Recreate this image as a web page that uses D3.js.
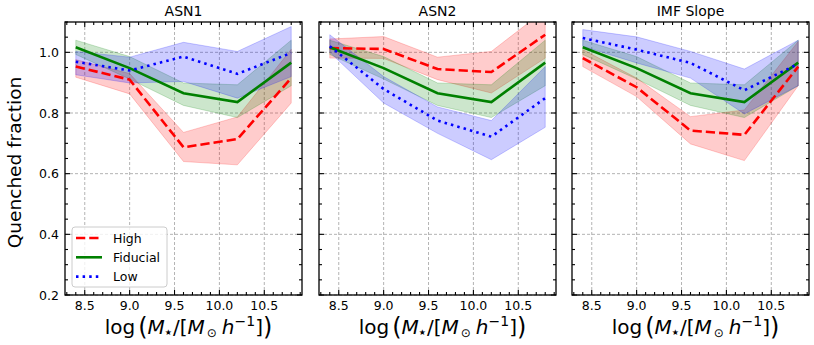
<!DOCTYPE html>
<html>
<head>
<meta charset="utf-8">
<script src="https://cdn.jsdelivr.net/npm/d3@7"></script>
<style>
  body { margin: 0; background: #fff; }
  text { font-family: "DejaVu Sans", sans-serif; fill: #000; }
</style>
</head>
<body>
<div id="chart-area"></div>
<script>
const chartWidth = 814
const chartHeight = 345

// Data
const xVals = [8.4, 9.0, 9.6, 10.2, 10.8];
const panelTitles = ["ASN1", "ASN2", "IMF Slope"];
const seriesNames = ["High", "Fiducial", "Low"];
const xTicks = [8.5, 9.0, 9.5, 10.0, 10.5];
const yTicks = [0.2, 0.4, 0.6, 0.8, 1.0];

const fiducialMid = [1.017, 0.948, 0.865, 0.836, 0.966];
const fiducialLo  = [0.993, 0.912, 0.825, 0.785, 0.890];
const fiducialHi  = [1.040, 0.986, 0.899, 0.893, 1.040];

const asn1HighMid = [0.953, 0.910, 0.687, 0.714, 0.915];
const asn1HighLo  = [0.918, 0.863, 0.640, 0.629, 0.833];
const asn1HighHi  = [0.976, 0.930, 0.736, 0.787, 1.010];
const asn1LowMid  = [0.969, 0.940, 0.986, 0.929, 0.998];
const asn1LowLo   = [0.926, 0.899, 0.904, 0.849, 0.920];
const asn1LowHi   = [1.003, 0.984, 1.033, 1.003, 1.085];

const asn2HighMid = [1.014, 1.011, 0.945, 0.935, 1.058];
const asn2HighLo  = [0.981, 0.980, 0.910, 0.866, 0.981];
const asn2HighHi  = [1.044, 1.052, 0.984, 1.003, 1.140];
const asn2LowMid  = [1.020, 0.879, 0.775, 0.722, 0.849];
const asn2LowLo   = [1.000, 0.833, 0.733, 0.646, 0.753];
const asn2LowHi   = [1.058, 0.920, 0.820, 0.775, 0.953];

const imfHighMid = [0.981, 0.885, 0.742, 0.728, 0.953];
const imfHighLo  = [0.953, 0.854, 0.698, 0.643, 0.890];
const imfHighHi  = [1.009, 0.915, 0.788, 0.810, 1.036];
const imfLowMid  = [1.047, 1.009, 0.965, 0.875, 0.962];
const imfLowLo   = [1.020, 0.965, 0.915, 0.797, 0.890];
const imfLowHi   = [1.075, 1.051, 1.003, 0.945, 1.040];

// panel -> series (High, Fiducial, Low)
const panels = [
    [[asn1HighMid, asn1HighLo, asn1HighHi], [fiducialMid, fiducialLo, fiducialHi], [asn1LowMid, asn1LowLo, asn1LowHi]],
    [[asn2HighMid, asn2HighLo, asn2HighHi], [fiducialMid, fiducialLo, fiducialHi], [asn2LowMid, asn2LowLo, asn2LowHi]],
    [[imfHighMid, imfHighLo, imfHighHi], [fiducialMid, fiducialLo, fiducialHi], [imfLowMid, imfLowLo, imfLowHi]]
];

const colors = ["#ff0000", "#008000", "#0000ff"];
const dashes = ["9.25,4", null, "2.5,4.1"];

const panelLefts = [65, 319, 572];
const panelWidth = 237;
const plotTop = 22, plotBottom = 295;

const svg = d3.select("#chart-area").append("svg")
    .attr("width", chartWidth)
    .attr("height", chartHeight);

const y = d3.scaleLinear().domain([0.2, 1.1]).range([plotBottom, plotTop]);

panels.forEach((series, p) => {
    const left = panelLefts[p];
    const x = d3.scaleLinear().domain([8.28, 10.92]).range([left, left + panelWidth]);

    const g = svg.append("g");

    const clipId = "clip" + p;
    svg.append("clipPath").attr("id", clipId)
        .append("rect")
        .attr("x", left).attr("y", plotTop)
        .attr("width", panelWidth).attr("height", plotBottom - plotTop);

    // grid
    g.selectAll(".gx").data(xTicks).enter().append("line")
        .attr("x1", d => x(d)).attr("x2", d => x(d))
        .attr("y1", plotTop).attr("y2", plotBottom)
        .attr("stroke", "#a0a0a0").attr("stroke-width", 0.8)
        .attr("stroke-dasharray", "3,2");
    g.selectAll(".gy").data(yTicks).enter().append("line")
        .attr("y1", d => y(d)).attr("y2", d => y(d))
        .attr("x1", left).attr("x2", left + panelWidth)
        .attr("stroke", "#a0a0a0").attr("stroke-width", 0.8)
        .attr("stroke-dasharray", "3,2");

    const plot = g.append("g").attr("clip-path", `url(#${clipId})`);

    const area = d3.area()
        .x((d, i) => x(xVals[i]))
        .y0(d => y(d[0]))
        .y1(d => y(d[1]));
    const line = d3.line()
        .x((d, i) => x(xVals[i]))
        .y(d => y(d));

    series.forEach((s, k) => {
        const band = s[1].map((lo, i) => [lo, s[2][i]]);
        plot.append("path")
            .datum(band)
            .attr("d", area)
            .attr("fill", colors[k])
            .attr("fill-opacity", 0.2)
            .attr("stroke", colors[k])
            .attr("stroke-opacity", 0.2)
            .attr("stroke-width", 1);
    });
    series.forEach((s, k) => {
        plot.append("path")
            .datum(s[0])
            .attr("d", line)
            .attr("fill", "none")
            .attr("stroke", colors[k])
            .attr("stroke-width", 2.6)
            .attr("stroke-dasharray", dashes[k]);
    });

    // ticks, all inward on 4 sides
    const xMinor = d3.range(8.3, 10.95, 0.1).map(v => Math.round(v * 10) / 10);
    const yMinor = d3.range(0.2, 1.101, 0.05).map(v => Math.round(v * 100) / 100);
    const tickG = g.append("g").attr("stroke", "#000").attr("stroke-width", 1.1);
    xMinor.forEach(v => {
        const major = xTicks.some(t => Math.abs(t - v) < 1e-6);
        const len = major ? 5 : 3;
        tickG.append("line").attr("x1", x(v)).attr("x2", x(v)).attr("y1", plotBottom).attr("y2", plotBottom - len);
        tickG.append("line").attr("x1", x(v)).attr("x2", x(v)).attr("y1", plotTop).attr("y2", plotTop + len);
    });
    yMinor.forEach(v => {
        const major = yTicks.some(t => Math.abs(t - v) < 1e-6);
        const len = major ? 5 : 3;
        tickG.append("line").attr("y1", y(v)).attr("y2", y(v)).attr("x1", left).attr("x2", left + len);
        tickG.append("line").attr("y1", y(v)).attr("y2", y(v)).attr("x1", left + panelWidth).attr("x2", left + panelWidth - len);
    });

    // frame
    g.append("rect")
        .attr("x", left).attr("y", plotTop)
        .attr("width", panelWidth).attr("height", plotBottom - plotTop)
        .attr("fill", "none").attr("stroke", "#000").attr("stroke-width", 1.3);

    // x tick labels
    g.selectAll(".xl").data(xTicks).enter().append("text")
        .attr("x", d => x(d)).attr("y", 310)
        .attr("text-anchor", "middle")
        .attr("font-size", "12.5px")
        .text(d => d.toFixed(1));

    if (p === 0) {
        g.selectAll(".yl").data(yTicks).enter().append("text")
            .attr("x", left - 6).attr("y", d => y(d) + 4.5)
            .attr("text-anchor", "end")
            .attr("font-size", "12.5px")
            .text(d => d.toFixed(1));
    }

    // title
    g.append("text")
        .attr("x", left + panelWidth / 2).attr("y", 15.5)
        .attr("text-anchor", "middle")
        .attr("font-size", "14px")
        .text(panelTitles[p]);

    // x label: log(M*/[Msun h^-1])
    const xl = g.append("text")
        .attr("x", left + panelWidth / 2 + 5).attr("y", 334)
        .attr("text-anchor", "middle")
        .attr("font-size", "20px");
    xl.append("tspan").text("log");
    xl.append("tspan").attr("font-size", "24px").attr("dx", 3).attr("dy", 1).text("(");
    xl.append("tspan").attr("font-style", "italic").attr("dy", -1).text("M");
    xl.append("tspan").attr("font-size", "8px").attr("dy", 1).text("★");
    xl.append("tspan").attr("dy", -1).attr("dx", 1).text("/[");
    xl.append("tspan").attr("font-style", "italic").text("M");
    xl.append("tspan").attr("font-size", "12px").attr("dy", 3).attr("dx", 2).text("⊙");
    xl.append("tspan").attr("font-style", "italic").attr("dy", -3).attr("dx", 5).text("h");
    xl.append("tspan").attr("font-size", "14px").attr("dy", -8).text("−1");
    xl.append("tspan").attr("dy", 8).text("]");
    xl.append("tspan").attr("font-size", "24px").attr("dy", 1).text(")");
});

// y label
svg.append("text")
    .attr("transform", `translate(21, ${(plotTop + plotBottom) / 2 + 4}) rotate(-90)`)
    .attr("text-anchor", "middle")
    .attr("font-size", "18.5px")
    .text("Quenched fraction");

// legend
const legend = svg.append("g");
legend.append("rect")
    .attr("x", 72).attr("y", 227)
    .attr("width", 95).attr("height", 60)
    .attr("rx", 3)
    .attr("fill", "#fff").attr("fill-opacity", 0.8)
    .attr("stroke", "#cccccc").attr("stroke-width", 1);
seriesNames.forEach((name, k) => {
    const yy = 238 + k * 19.3;
    legend.append("line")
        .attr("x1", 76).attr("x2", 102)
        .attr("y1", yy).attr("y2", yy)
        .attr("stroke", colors[k]).attr("stroke-width", 2.6)
        .attr("stroke-dasharray", dashes[k]);
    legend.append("text")
        .attr("x", 113).attr("y", yy + 4.5)
        .attr("font-size", "12.5px")
        .text(name);
});
</script>
</body>
</html>
